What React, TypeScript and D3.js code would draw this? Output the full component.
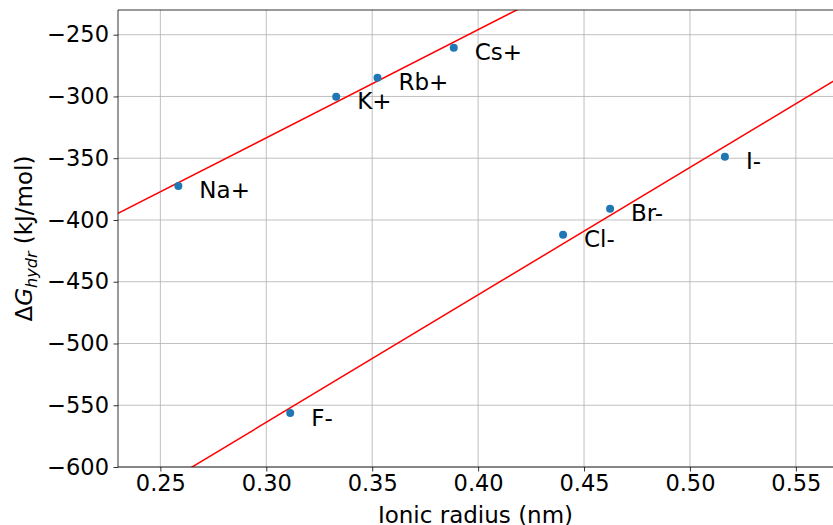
import React, { useRef, useEffect } from 'react';
import * as d3 from 'd3';

// ionic radius (nm) and hydration free energy (kJ/mol)
const cationNames = ['Na+', 'K+', 'Rb+', 'Cs+'];
const cationRadius = [0.2585, 0.333, 0.3525, 0.3885];
const cationDG = [-372.4, -300.2, -284.8, -260.5];

const anionNames = ['F-', 'Cl-', 'Br-', 'I-'];
const anionRadius = [0.3113, 0.4401, 0.4623, 0.5165];
const anionDG = [-556.3, -412.0, -391.0, -348.9];

const xTicks = [0.25, 0.3, 0.35, 0.4, 0.45, 0.5, 0.55];
const yTicks = [-600, -550, -500, -450, -400, -350, -300, -250];

const W = 833;
const H = 525;
const margin = { top: 10, right: -1, bottom: 58, left: 118 };

function fit(xs: number[], ys: number[]) {
  const mx = d3.mean(xs)!;
  const my = d3.mean(ys)!;
  let sxy = 0, sxx = 0;
  xs.forEach((x, i) => {
    sxy += (x - mx) * (ys[i] - my);
    sxx += (x - mx) * (x - mx);
  });
  const b = sxy / sxx;
  return { a: my - b * mx, b };
}

export default function App() {
  const ref = useRef<SVGSVGElement>(null);

  useEffect(() => {
    const svg = d3.select(ref.current);
    svg.selectAll('*').remove();

    const font = 'DejaVu Sans, sans-serif';
    const x = d3.scaleLinear().domain([0.23, 0.568]).range([margin.left, W - margin.right]);
    const y = d3.scaleLinear().domain([-600, -230]).range([H - margin.bottom, margin.top]);

    svg.append('defs').append('clipPath').attr('id', 'plot')
      .append('rect')
      .attr('x', margin.left).attr('y', margin.top)
      .attr('width', W - margin.right - margin.left)
      .attr('height', H - margin.bottom - margin.top);

    // grid
    const grid = svg.append('g').attr('stroke', '#b0b0b0').attr('stroke-width', 0.8);
    grid.selectAll('line.gx').data(xTicks).join('line')
      .attr('x1', d => x(d)).attr('x2', d => x(d))
      .attr('y1', margin.top).attr('y2', H - margin.bottom);
    grid.selectAll('line.gy').data(yTicks).join('line')
      .attr('y1', d => y(d)).attr('y2', d => y(d))
      .attr('x1', margin.left).attr('x2', W - margin.right);

    // fit lines
    const [x0, x1] = x.domain();
    const plot = svg.append('g').attr('clip-path', 'url(#plot)');
    [fit(cationRadius, cationDG), fit(anionRadius, anionDG)].forEach(f => {
      plot.append('line')
        .attr('x1', x(x0)).attr('y1', y(f.a + f.b * x0))
        .attr('x2', x(x1)).attr('y2', y(f.a + f.b * x1))
        .attr('stroke', '#ff0000').attr('stroke-width', 1.5);
    });

    // points + labels
    const pts = [
      ...cationNames.map((n, i) => ({ n, r: cationRadius[i], g: cationDG[i] })),
      ...anionNames.map((n, i) => ({ n, r: anionRadius[i], g: anionDG[i] })),
    ];
    svg.append('g').selectAll('circle').data(pts).join('circle')
      .attr('cx', d => x(d.r)).attr('cy', d => y(d.g)).attr('r', 4)
      .attr('fill', '#1f77b4');
    svg.append('g').selectAll('text').data(pts).join('text')
      .attr('x', d => x(d.r) + 21).attr('y', d => y(d.g) + 12.5)
      .attr('font-family', font).attr('font-size', 23).attr('fill', '#000')
      .text(d => d.n);

    // spines
    svg.append('path')
      .attr('d', `M${W - margin.right},${margin.top}H${margin.left}V${H - margin.bottom}H${W - margin.right}`)
      .attr('fill', 'none').attr('stroke', '#000').attr('stroke-width', 0.8);

    // axes
    const xAxis = svg.append('g')
      .attr('transform', `translate(0,${H - margin.bottom})`)
      .call(d3.axisBottom(x).tickValues(xTicks).tickFormat(d3.format('.2f')).tickSize(4.5).tickSizeOuter(0));
    const yAxis = svg.append('g')
      .attr('transform', `translate(${margin.left},0)`)
      .call(d3.axisLeft(y).tickValues(yTicks).tickFormat(d => String(d).replace('-', '\u2212')).tickSize(4.5).tickSizeOuter(0));
    [xAxis, yAxis].forEach(a => {
      a.select('.domain').remove();
      a.selectAll('text').attr('font-family', font).attr('font-size', 22.5).attr('fill', '#000');
      a.selectAll('line').attr('stroke', '#000').attr('stroke-width', 0.8);
    });
    xAxis.selectAll('text').attr('dy', '0.72em').attr('y', 8);
    yAxis.selectAll('text').attr('x', -9);

    svg.append('text')
      .attr('x', 475.5).attr('y', 523)
      .attr('text-anchor', 'middle').attr('font-family', font).attr('font-size', 23)
      .text('Ionic radius (nm)');

    const yl = svg.append('text')
      .attr('transform', `translate(32,${(margin.top + H - margin.bottom) / 2}) rotate(-90)`)
      .attr('text-anchor', 'middle').attr('font-family', font).attr('font-size', 23);
    yl.append('tspan').text('\u0394');
    yl.append('tspan').attr('font-style', 'italic').text('G');
    yl.append('tspan').attr('font-style', 'italic').attr('font-size', 16).attr('dy', 5).text('hydr');
    yl.append('tspan').attr('dy', -5).text(' (kJ/mol)');
  }, []);

  return (
    <svg ref={ref} width={W} height={H}
      style={{ position: 'absolute', left: 0, top: 0, background: '#fff' }} />
  );
}
